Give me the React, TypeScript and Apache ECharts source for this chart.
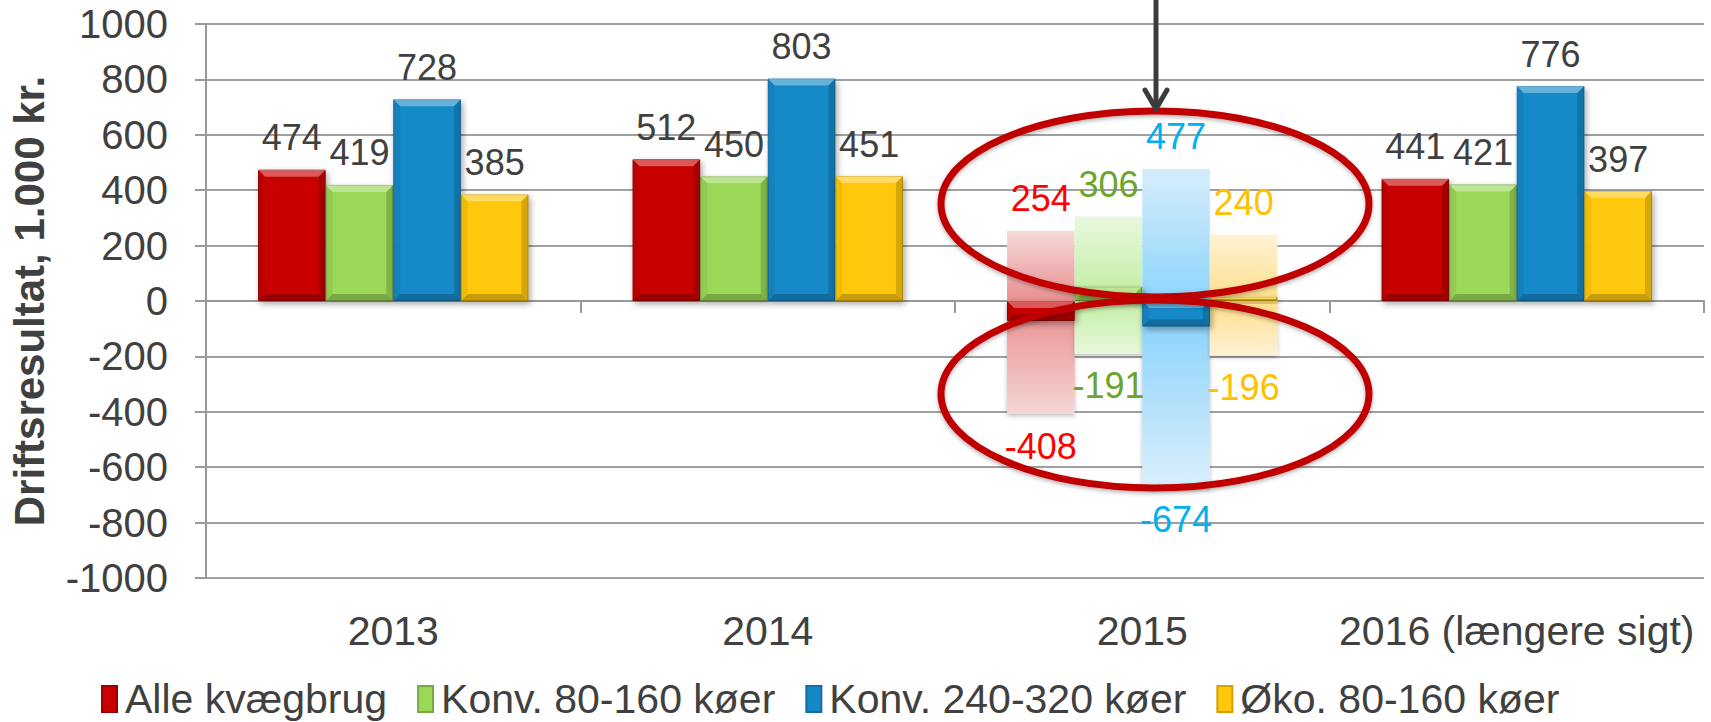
import React, { useEffect, useRef } from "react";
import * as echarts from "echarts";

const categories = ["2013", "2014", "2015", "2016 (længere sigt)"];
const seriesNames = ["Alle kvægbrug", "Konv. 80-160 køer", "Konv. 240-320 køer", "Øko. 80-160 køer"];
const alleKvaegbrug = [474, 512, -72, 441];
const konv80 = [419, 450, 52, 421];
const konv240 = [728, 803, -92, 776];
const oko80 = [385, 451, 15, 397];
const rangeHigh2015 = [254, 306, 477, 240];
const rangeLow2015 = [-408, -191, -674, -196];
const yTicks = { min: -1000, max: 1000, interval: 200 };

const solidColors = ["#C80000", "#9BD858", "#1589C8", "#FFC80A"];
const solidBorders = ["#9A0000", "#78A845", "#0F6FA3", "#D0A000"];
const labelColors = ["#FF0000", "#6BA52E", "#00B0F0", "#FFC000"];
const posGrad = [
  ["#F6DADA", "#E99090"],
  ["#E9F8DF", "#C0EDA0"],
  ["#D6EDFB", "#8ED5FC"],
  ["#FFF3D8", "#FFDF8A"],
];
const negGrad = [
  ["#E98C8C", "#F5D6D6"],
  ["#C3EEA5", "#E8F8DD"],
  ["#84D0FB", "#DAEFFC"],
  ["#FFDE88", "#FFF2D6"],
];

const FONT = "'Liberation Sans', Arial, sans-serif";
const GAP_RATIO = 0.278;
const GAP = "27.8%";

export default function App() {
  const ref = useRef<HTMLDivElement>(null);
  useEffect(() => {
    if (!ref.current) return;
    const chart = echarts.init(ref.current, undefined, { renderer: "svg" });
    const solidData = [alleKvaegbrug, konv80, konv240, oko80];

    const solidSeries = solidData.map((arr, i) => ({
      name: seriesNames[i],
      type: "bar",
      xAxisIndex: 0,
      barGap: "0%",
      barCategoryGap: GAP,
      z: 3,
      data: arr.map((v, j) => (j === 2 ? { value: v, label: { show: false } } : v)),
      itemStyle: {
        color: solidColors[i],
        borderColor: solidBorders[i],
        borderWidth: 1,
        shadowColor: "rgba(0,0,0,0.35)",
        shadowBlur: 6,
        shadowOffsetX: 2,
        shadowOffsetY: 3,
      },
      label: {
        show: true,
        position: "top",
        distance: 14,
        fontSize: 36,
        color: "#404040",
        fontFamily: FONT,
      },
    }));

    // bevel overlay built from the same values through the axes
    const bevelData: number[][] = [];
    solidData.forEach((arr, si) => arr.forEach((v, ci) => bevelData.push([ci, si, v])));
    const bevelSeries = {
      name: "bevel",
      type: "custom",
      xAxisIndex: 0,
      z: 4,
      silent: true,
      data: bevelData,
      renderItem: (params: any, api: any) => {
        const cat = api.value(0);
        const si = api.value(1);
        const v = api.value(2);
        const base = api.coord([cat, 0]);
        const top = api.coord([cat, v]);
        const catW = api.size([1, 0])[0];
        const bw = (catW * (1 - GAP_RATIO)) / 4;
        const x0 = base[0] - 2 * bw + si * bw;
        const x1 = x0 + bw;
        const yT = Math.min(base[1], top[1]);
        const yB = Math.max(base[1], top[1]);
        const b = Math.min(7, (yB - yT) / 2);
        const poly = (pts: number[][], fill: string) => ({
          type: "polygon",
          shape: { points: pts },
          style: { fill },
        });
        return {
          type: "group",
          children: [
            poly([[x0, yT], [x1, yT], [x1 - b, yT + b], [x0 + b, yT + b]], "rgba(255,255,255,0.35)"),
            poly([[x0, yB], [x1, yB], [x1 - b, yB - b], [x0 + b, yB - b]], "rgba(0,0,0,0.22)"),
            poly([[x0, yT], [x0 + b, yT + b], [x0 + b, yB - b], [x0, yB]], "rgba(0,0,0,0.06)"),
            poly([[x1, yT], [x1 - b, yT + b], [x1 - b, yB - b], [x1, yB]], "rgba(0,0,0,0.16)"),
          ],
        };
      },
    };

    const rangeSeries: any[] = [];
    for (let i = 0; i < 4; i++) {
      rangeSeries.push({
        name: "r-pos-" + i,
        type: "bar",
        xAxisIndex: 1,
        stack: "r" + i,
        barGap: "0%",
        barCategoryGap: GAP,
        z: 1,
        data: categories.map((_, j) => (j === 2 ? rangeHigh2015[i] : null)),
        itemStyle: {
          color: {
            type: "linear", x: 0, y: 0, x2: 0, y2: 1,
            colorStops: [
              { offset: 0, color: posGrad[i][0] },
              { offset: 1, color: posGrad[i][1] },
            ],
          },
        },
        label: {
          show: true,
          position: "top",
          distance: 14,
          fontSize: 36,
          color: labelColors[i],
          fontFamily: FONT,
        },
      });
      rangeSeries.push({
        name: "r-neg-" + i,
        type: "bar",
        xAxisIndex: 1,
        stack: "r" + i,
        barGap: "0%",
        barCategoryGap: GAP,
        z: 1,
        data: categories.map((_, j) => (j === 2 ? rangeLow2015[i] : null)),
        itemStyle: {
          color: {
            type: "linear", x: 0, y: 0, x2: 0, y2: 1,
            colorStops: [
              { offset: 0, color: negGrad[i][0] },
              { offset: 1, color: negGrad[i][1] },
            ],
          },
          shadowColor: "rgba(0,0,0,0.25)",
          shadowBlur: 4,
          shadowOffsetY: 2,
        },
        label: {
          show: true,
          position: "bottom",
          distance: 14,
          fontSize: 36,
          color: labelColors[i],
          fontFamily: FONT,
        },
      });
    }

    const option: any = {
      animation: false,
      backgroundColor: "#FFFFFF",
      textStyle: { fontFamily: FONT },
      grid: { left: 206, right: 7, top: 24, bottom: 144, containLabel: false, outerBoundsMode: "none" },
      legend: {
        data: seriesNames,
        left: 96,
        top: 672,
        icon: "rect",
        itemWidth: 15,
        itemHeight: 26,
        itemGap: 30,
        textStyle: { fontSize: 41, lineHeight: 44, color: "#404040", fontFamily: FONT, padding: [0, 0, 0, 3] },
      },
      xAxis: [
        {
          type: "category",
          data: categories,
          position: "bottom",
          axisLine: { show: true, onZero: true, lineStyle: { color: "#999999", width: 2 } },
          axisTick: { show: true, length: 12, lineStyle: { color: "#999999", width: 2 } },
          axisLabel: { show: false },
          splitLine: { show: false },
        },
        {
          type: "category",
          data: categories,
          position: "bottom",
          axisLine: { show: false, onZero: false },
          axisTick: { show: false },
          axisLabel: { show: true, interval: 0, fontSize: 41, color: "#404040", margin: 32, fontFamily: FONT },
          splitLine: { show: false },
        },
      ],
      yAxis: {
        type: "value",
        min: yTicks.min,
        max: yTicks.max,
        interval: yTicks.interval,
        name: "Driftsresultat, 1.000 kr.",
        nameLocation: "middle",
        nameRotate: 90,
        nameGap: 156,
        nameTextStyle: { fontSize: 42, fontWeight: "bold", color: "#404040", fontFamily: FONT },
        axisLine: { show: true, lineStyle: { color: "#999999", width: 2 } },
        axisTick: { show: true, length: 11, lineStyle: { color: "#999999", width: 2 } },
        axisLabel: {
          fontSize: 40,
          color: "#404040",
          margin: 38,
          fontFamily: FONT,
          formatter: (v: number) => String(v),
        },
        splitLine: { show: true, lineStyle: { color: "#A0A0A0", width: 2 } },
      },
      series: [...rangeSeries, ...solidSeries, bevelSeries],
      graphic: [
        {
          type: "ellipse",
          z: 100,
          shape: { cx: 1155, cy: 204, rx: 214, ry: 93 },
          style: {
            fill: "transparent",
            stroke: "#C00000",
            lineWidth: 7,
            shadowColor: "rgba(0,0,0,0.3)",
            shadowBlur: 4,
            shadowOffsetY: 2,
          },
        },
        {
          type: "ellipse",
          z: 100,
          shape: { cx: 1155, cy: 394, rx: 214, ry: 94 },
          style: {
            fill: "transparent",
            stroke: "#C00000",
            lineWidth: 7,
            shadowColor: "rgba(0,0,0,0.3)",
            shadowBlur: 4,
            shadowOffsetY: 2,
          },
        },
        {
          type: "line",
          z: 101,
          shape: { x1: 1156, y1: 0, x2: 1156, y2: 108 },
          style: { stroke: "#3C3C3C", lineWidth: 5 },
        },
        {
          type: "polyline",
          z: 101,
          shape: { points: [[1145, 90], [1156, 109], [1167, 90]] },
          style: { stroke: "#3C3C3C", lineWidth: 5, fill: "none", lineCap: "round", lineJoin: "round" },
        },
      ],
    };
    chart.setOption(option);
    return () => chart.dispose();
  }, []);
  return (
    <div
      ref={ref}
      style={{ position: "fixed", left: 0, top: 0, width: 1711, height: 722, background: "#fff" }}
    />
  );
}
